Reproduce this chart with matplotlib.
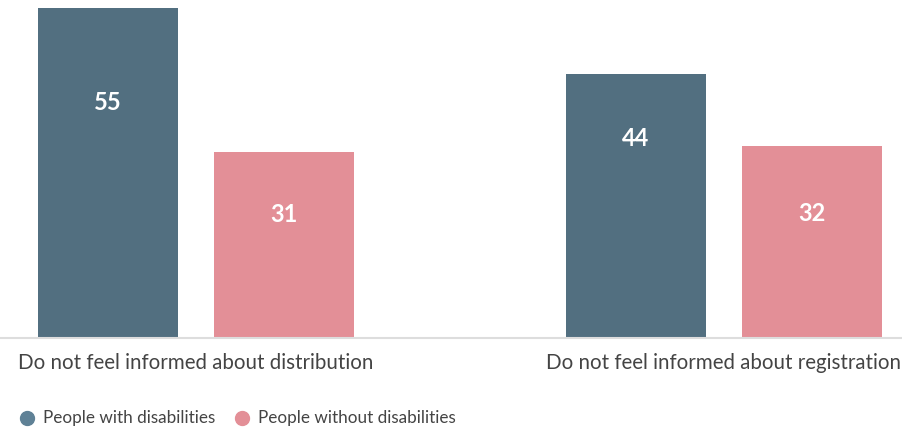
import matplotlib.pyplot as plt
from matplotlib.lines import Line2D
import numpy as np

categories = ["Do not feel informed about distribution",
              "Do not feel informed about registration"]
series_names = ["People with disabilities", "People without disabilities"]
with_dis = [55, 44]
without_dis = [31, 32]

bar_colors = ["#526f80", "#e38f97"]
dot_colors = ["#5f8196", "#e38f97"]

plt.rcParams['font.family'] = ['Lato', 'DejaVu Sans']

fig = plt.figure(figsize=(9.02, 4.32), dpi=100)
ax = fig.add_axes([0, (432 - 338) / 432, 1, 338 / 432])

x = np.arange(len(categories))
w = 0.265
off = 0.1667
b1 = ax.bar(x - off, with_dis, w, color=bar_colors[0])
b2 = ax.bar(x + off, without_dis, w, color=bar_colors[1])

# how far below the bar top each number sits
drops = [[15.8, 10.8], [10.5, 11.2]]
for bars, vals, d in zip([b1, b2], [with_dis, without_dis], drops):
    for rect, v, dd in zip(bars, vals, d):
        ax.text(rect.get_x() + rect.get_width() / 2, v - dd, str(v),
                ha="center", va="center", color="white",
                fontsize=17, fontweight="bold")

ax.set_xlim(-196 / 528, 706 / 528)
ax.set_ylim(0, 55 + 8 / 6)
ax.axis("off")
ax.axhline(0, color="#dddddd", lw=1.5, clip_on=False)

for xi, cat in zip(x, categories):
    ax.text(xi, -4.2, cat, ha="center", va="center",
            fontsize=14.8, color="#444444")

# legend
leg_x = [27, 242]
ly = 1 - 418 / 432
for lx, name, c in zip(leg_x, series_names, dot_colors):
    fig.add_artist(Line2D([lx / 902], [ly], marker="o", markersize=10,
                          color=c, linestyle="none",
                          transform=fig.transFigure))
    fig.text((lx + 16) / 902, ly, name, color="#444444",
             fontsize=12.3, ha="left", va="center")

fig.savefig("out.png", dpi=100)
